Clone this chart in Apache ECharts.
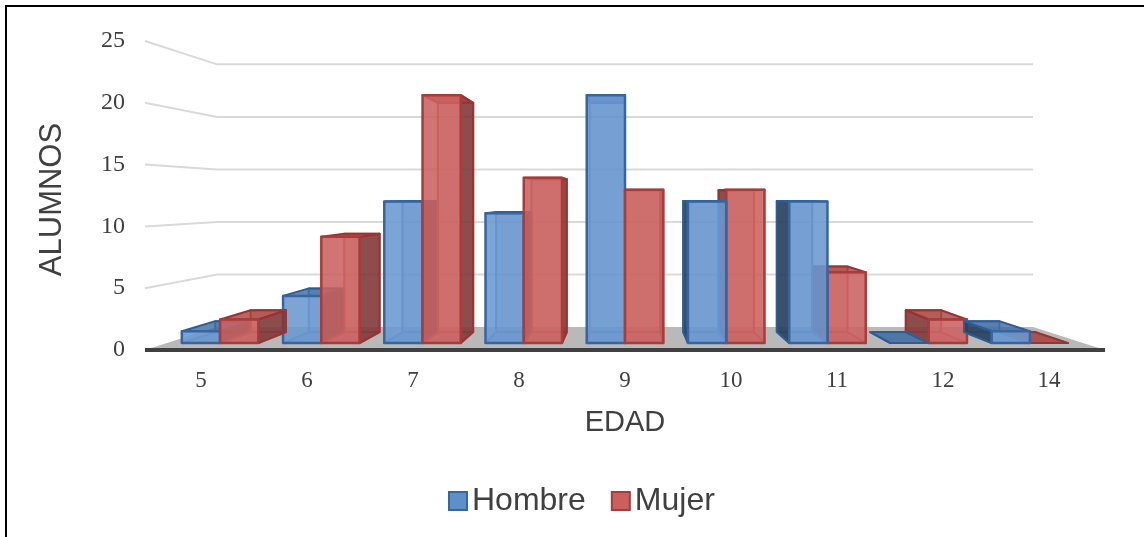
<!DOCTYPE html>
<html>
<head>
<meta charset="utf-8">
<style>
html,body{margin:0;padding:0;background:#fff;overflow:hidden;}
#frame{position:absolute;left:5px;top:5px;width:1200px;height:600px;border:2px solid #000;}
#main{position:absolute;left:0;top:0;width:1144px;height:537px;}
</style>
<script src="https://cdn.jsdelivr.net/npm/echarts@6/dist/echarts.min.js"></script>
</head>
<body>
<div id="frame"></div>
<div id="main"></div>
<script>
var edades = ['5','6','7','8','9','10','11','12','14'];
var hombres = [1,4,12,11,21,12,12,0,1];
var mujeres = [2,9,21,14,13,13,6,2,0];
var gridTicks = [5,10,15,20,25];

// perspective of the excel 3d chart: t=0 is the axis plane, t=1 the back wall
var SHRINK = 0.15, RISE = 23;
var BOX_FRONT = 0.3, BOX_BACK = 0.78, BOX_WIDTH = 0.378;
var FLOOR_PAD = 3; // floor and axis line stick out of the grid a little

function project(cs, px, py, t){
    var cx = cs.x + cs.width/2;
    var base = cs.y + cs.height;
    var s = 1 - SHRINK*t;
    return [cx + (px-cx)*s, base + (py-base)*s - RISE*t];
}

function face(points, fill, stroke, z2, lw){
    return {
        type:'polygon',
        z2:z2,
        shape:{points:points},
        style:{fill:fill, stroke:stroke, lineWidth:lw || 2, lineJoin:'round'}
    };
}

function boxRenderer(offset, colors, firstOnRight){
    return function(params, api){
        var cs = params.coordSys;
        var idx = api.value(0);
        var val = api.value(1);
        var band = api.size([1,0])[0];
        var p0 = api.coord([idx, 0]);
        var p1 = api.coord([idx, val]);
        var xl = p0[0] + band*offset;
        var xr = xl + band*BOX_WIDTH;
        var FLB = project(cs, xl, p0[1], BOX_FRONT), FRB = project(cs, xr, p0[1], BOX_FRONT);
        var FLT = project(cs, xl, p1[1], BOX_FRONT), FRT = project(cs, xr, p1[1], BOX_FRONT);
        var BLB = project(cs, xl, p0[1], BOX_BACK), BRB = project(cs, xr, p0[1], BOX_BACK);
        var BLT = project(cs, xl, p1[1], BOX_BACK), BRT = project(cs, xr, p1[1], BOX_BACK);
        var onRight = idx > 4;
        var z = 10 + (onRight ? (firstOnRight ? 0 : 10) : (firstOnRight ? 10 : 0));
        var kids = [];
        kids.push(face([BLB,BRB,BRT,BLT], colors.back, colors.inner, z, 2));
        kids.push(face([FLB,FRB,BRB,BLB], colors.back, colors.inner, z+1, 2));
        if(idx < 4.5){
            kids.push(face([FRB,BRB,BRT,FRT], colors.side, colors.dark, z+2, 2));
        }else{
            kids.push(face([FLB,BLB,BLT,FLT], colors.side, colors.dark, z+2, 2));
        }
        kids.push(face([FLT,FRT,BRT,BLT], colors.top, colors.dark, z+3, 2));
        if(val > 0){
            kids.push(face([FLB,FRB,FRT,FLT], colors.front, colors.edge, z+4, 2.5));
        }
        return {type:'group', children:kids};
    };
}

var blue = {
    front:'rgba(106,151,207,0.88)', back:'rgba(79,129,189,0.3)', side:'rgba(38,62,90,0.88)',
    top:'rgba(60,105,160,0.8)', edge:'#37659f', inner:'#4a7db5', dark:'#2f5c94'
};
var red = {
    front:'rgba(203,98,97,0.88)', back:'rgba(192,80,77,0.3)', side:'rgba(125,55,55,0.85)',
    top:'rgba(165,65,62,0.8)', edge:'#a83c3a', inner:'#bb4c4a', dark:'#983533'
};

var chart = echarts.init(document.getElementById('main'), null, {renderer:'canvas'});
chart.setOption({
    animation:false,
    backgroundColor:'transparent',
    grid:{left:148, right:42, top:41, bottom:187},
    legend:{
        data:['Hombre','Mujer'],
        bottom:15,
        left:443,
        icon:'rect',
        itemWidth:18,
        itemHeight:18,
        itemGap:25,
        textStyle:{fontFamily:'Liberation Sans', fontSize:32, color:'#404040'}
    },
    xAxis:{
        type:'category',
        data:edades,
        name:'EDAD',
        nameLocation:'middle',
        nameGap:58,
        nameTextStyle:{fontFamily:'Liberation Sans', fontSize:29, color:'#404040'},
        axisLine:{show:false},
        axisTick:{show:false},
        axisLabel:{fontFamily:'Liberation Serif', fontSize:23, color:'#404040', margin:19}
    },
    yAxis:{
        type:'value',
        min:0,
        max:25,
        interval:5,
        name:'ALUMNOS',
        nameLocation:'middle',
        nameGap:80,
        nameRotate:90,
        nameTextStyle:{fontFamily:'Liberation Sans', fontSize:31, color:'#404040', padding:[0,8,0,0]},
        axisLine:{show:false},
        axisTick:{show:false},
        splitLine:{show:false},
        axisLabel:{fontFamily:'Liberation Serif', fontSize:24, color:'#404040', margin:23}
    },
    series:[
        {
            name:'piso',
            type:'custom',
            z:1,
            silent:true,
            clip:false,
            data:[[0,0]],
            renderItem:function(params, api){
                var cs = params.coordSys;
                var base = api.coord([0,0])[1];
                var l = cs.x - FLOOR_PAD, r = cs.x + cs.width + FLOOR_PAD;
                return {type:'group', children:[
                    {type:'polygon', shape:{points:[
                        project(cs, l, base, 0), project(cs, r, base, 0),
                        project(cs, r, base, 1), project(cs, l, base, 1)
                    ]}, style:{fill:'#b9b9b9'}},
                    {type:'line', z2:40, shape:{x1:l, y1:base, x2:r, y2:base},
                        style:{stroke:'#404040', lineWidth:4}}
                ]};
            }
        },
        {
            name:'rejilla',
            type:'custom',
            z:1,
            silent:true,
            clip:false,
            data:gridTicks.map(function(v){ return [0,v]; }),
            renderItem:function(params, api){
                var cs = params.coordSys;
                var y = api.coord([0, api.value(1)])[1];
                var l = cs.x - FLOOR_PAD, r = cs.x + cs.width + FLOOR_PAD;
                return {type:'polyline', shape:{points:[
                    [l, y], project(cs, l, y, 1), project(cs, r, y, 1)
                ]}, style:{fill:'none', stroke:'#d9d9d9', lineWidth:2}};
            }
        },
        {
            name:'Hombre',
            type:'custom',
            z:3,
            clip:false,
            itemStyle:{color:'#5f8fc8', borderColor:'#37659f', borderWidth:2},
            data:hombres.map(function(v,i){ return [i,v]; }),
            encode:{x:0,y:1},
            renderItem:boxRenderer(-BOX_WIDTH, blue, false)
        },
        {
            name:'Mujer',
            type:'custom',
            z:3,
            clip:false,
            itemStyle:{color:'#c9605e', borderColor:'#a83c3a', borderWidth:2},
            data:mujeres.map(function(v,i){ return [i,v]; }),
            encode:{x:0,y:1},
            renderItem:boxRenderer(0, red, true)
        }
    ]
});
</script>
</body>
</html>
